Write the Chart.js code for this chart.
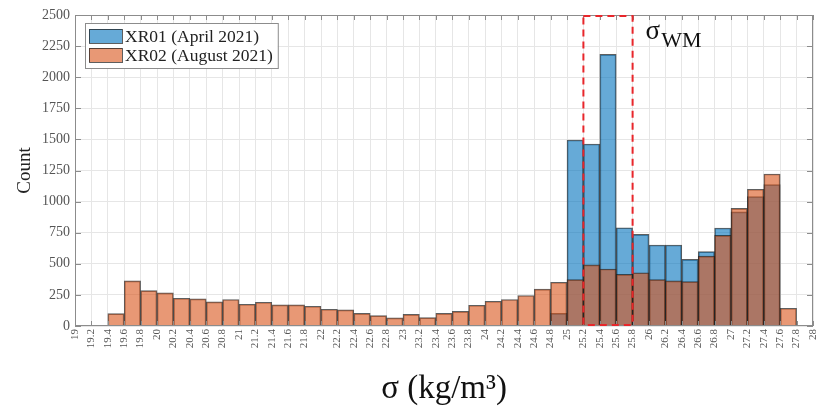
<!DOCTYPE html>
<html>
<head>
<meta charset="utf-8">
<script src="https://cdn.jsdelivr.net/npm/chart.js@4.4.0/dist/chart.umd.min.js"></script>
<style>
    html, body { margin: 0; padding: 0; background: #fff; }
    #wrap { width: 817px; height: 409px; }
</style>
</head>
<body>
<div id="wrap"><canvas id="chart" width="817" height="409"></canvas></div>
<script>
// bin centres of the 0.2 kg/m3 histogram bins
const binCenters = [19.1, 19.3, 19.5, 19.7, 19.9, 20.1, 20.3, 20.5, 20.7, 20.9,
    21.1, 21.3, 21.5, 21.7, 21.9, 22.1, 22.3, 22.5, 22.7, 22.9,
    23.1, 23.3, 23.5, 23.7, 23.9, 24.1, 24.3, 24.5, 24.7, 24.9,
    25.1, 25.3, 25.5, 25.7, 25.9, 26.1, 26.3, 26.5, 26.7, 26.9,
    27.1, 27.3, 27.5, 27.7, 27.9];

const xr01Counts = [0, 0, 0, 0, 0, 0, 0, 0, 0, 0,
    0, 0, 0, 0, 0, 0, 0, 0, 0, 0,
    0, 0, 0, 0, 0, 0, 0, 0, 0, 102,
    1495, 1463, 2184, 790, 737, 651, 651, 536, 598, 788,
    917, 1040, 1136, 0, 0];

const xr02Counts = [0, 0, 100, 363, 285, 266, 223, 218, 194, 213,
    175, 191, 170, 170, 159, 135, 129, 102, 83, 65,
    94, 67, 102, 118, 167, 199, 213, 245, 296, 352,
    373, 492, 458, 415, 428, 373, 363, 357, 562, 729,
    946, 1099, 1222, 143, 0];

const seriesLabels = ['XR01 (April 2021)', 'XR02 (August 2021)'];

const xTickValues = [19, 19.2, 19.4, 19.6, 19.8, 20, 20.2, 20.4, 20.6, 20.8,
    21, 21.2, 21.4, 21.6, 21.8, 22, 22.2, 22.4, 22.6, 22.8,
    23, 23.2, 23.4, 23.6, 23.8, 24, 24.2, 24.4, 24.6, 24.8,
    25, 25.2, 25.4, 25.6, 25.8, 26, 26.2, 26.4, 26.6, 26.8,
    27, 27.2, 27.4, 27.6, 27.8, 28];
const yTickValues = [0, 250, 500, 750, 1000, 1250, 1500, 1750, 2000, 2250, 2500];

const wmRange = [25.2, 25.8];

const FONT = "'Liberation Serif', 'Times New Roman', serif";
const blueFill = 'rgba(0, 114, 189, 0.6)';
const orangeFill = 'rgba(217, 83, 25, 0.6)';
const edgeColor = 'rgba(25, 25, 25, 0.7)';
const axisGray = '#8c8c8c';
const labelGray = '#555';

const toPoints = counts => counts.map((c, i) => ({ x: binCenters[i], y: c }));

const framePlugin = {
    id: 'frame',
    beforeDraw(chart) {
        const ctx = chart.ctx;
        ctx.save();
        ctx.fillStyle = '#fff';
        ctx.fillRect(0, 0, chart.width, chart.height);
        ctx.restore();
    },
    afterDatasetsDraw(chart) {
        const { ctx, chartArea: a, scales } = chart;
        const x = scales.x, y = scales.y;
        ctx.save();

        // axes box with inward ticks
        ctx.strokeStyle = axisGray;
        ctx.lineWidth = 1;
        ctx.strokeRect(Math.round(a.left) + 0.5, Math.round(a.top) + 0.5,
            Math.round(a.width) - 1, Math.round(a.height) - 1);
        ctx.beginPath();
        xTickValues.forEach(v => {
            const px = Math.round(x.getPixelForValue(v)) + 0.5;
            ctx.moveTo(px, a.bottom); ctx.lineTo(px, a.bottom - 5);
            ctx.moveTo(px, a.top); ctx.lineTo(px, a.top + 5);
        });
        yTickValues.forEach(v => {
            const py = Math.round(y.getPixelForValue(v)) + 0.5;
            ctx.moveTo(a.left, py); ctx.lineTo(a.left + 6, py);
            ctx.moveTo(a.right, py); ctx.lineTo(a.right - 6, py);
        });
        ctx.stroke();

        // red dashed window
        const x0 = x.getPixelForValue(wmRange[0]);
        const x1 = x.getPixelForValue(wmRange[1]);
        ctx.strokeStyle = '#e8262b';
        ctx.lineWidth = 2;
        ctx.setLineDash([7, 5]);
        ctx.strokeRect(x0, a.top + 1, x1 - x0, a.height - 2);
        ctx.setLineDash([]);

        // sigma_WM label
        ctx.fillStyle = '#111';
        ctx.textBaseline = 'alphabetic';
        ctx.font = `27px ${FONT}`;
        ctx.fillText('σ', x1 + 13, a.top + 24);
        const sw = ctx.measureText('σ').width;
        ctx.font = `22px ${FONT}`;
        ctx.fillText('WM', x1 + 13 + sw + 1, a.top + 32);

        // legend
        const lx = a.left + 10, ly = a.top + 8;
        ctx.font = `17.5px ${FONT}`;
        const tw = Math.max(...seriesLabels.map(t => ctx.measureText(t).width));
        const boxW = 40 + tw + 5, boxH = 45;
        ctx.fillStyle = '#fff';
        ctx.fillRect(lx, ly, boxW, boxH);
        ctx.strokeStyle = axisGray;
        ctx.lineWidth = 1;
        ctx.strokeRect(lx + 0.5, ly + 0.5, boxW, boxH);
        const fills = [blueFill, orangeFill];
        ctx.textBaseline = 'middle';
        seriesLabels.forEach((t, i) => {
            const sy = ly + 6 + i * 19;
            ctx.fillStyle = fills[i];
            ctx.fillRect(lx + 4, sy, 33, 14);
            ctx.strokeStyle = edgeColor;
            ctx.strokeRect(lx + 4.5, sy + 0.5, 33, 14);
            ctx.fillStyle = '#222';
            ctx.fillText(t, lx + 40, sy + 8);
        });
        ctx.restore();
    }
};

new Chart(document.getElementById('chart'), {
    type: 'bar',
    data: {
        datasets: [{
            label: seriesLabels[0],
            data: toPoints(xr01Counts),
            backgroundColor: blueFill,
            borderColor: edgeColor,
            borderWidth: 1,
            order: 2
        }, {
            label: seriesLabels[1],
            data: toPoints(xr02Counts),
            backgroundColor: orangeFill,
            borderColor: edgeColor,
            borderWidth: 1,
            order: 1
        }]
    },
    options: {
        responsive: false,
        animation: false,
        layout: { padding: { left: 0, right: 4, top: 15, bottom: 0 } },
        datasets: {
            bar: { grouped: false, barPercentage: 1, categoryPercentage: 1 }
        },
        plugins: {
            legend: { display: false },
            tooltip: { enabled: false }
        },
        scales: {
            x: {
                type: 'linear',
                min: 19,
                max: 28,
                offset: false,
                afterBuildTicks: scale => {
                    scale.ticks = xTickValues.map(v => ({ value: v }));
                },
                afterFit: scale => {
                    scale.height = 83;
                    scale.paddingLeft = 0;
                    scale.paddingRight = 0;
                },
                grid: { color: '#e6e6e6', drawTicks: false, offset: false },
                border: { display: false },
                ticks: {
                    autoSkip: false,
                    minRotation: 90,
                    maxRotation: 90,
                    padding: 3,
                    color: labelGray,
                    font: { family: FONT, size: 11 },
                    callback: v => String(+v.toFixed(1))
                },
                title: {
                    display: true,
                    text: 'σ (kg/m³)',
                    color: '#111',
                    font: { family: FONT, size: 33 },
                    padding: { top: 0, bottom: 0 }
                }
            },
            y: {
                min: 0,
                max: 2500,
                afterBuildTicks: scale => {
                    scale.ticks = yTickValues.map(v => ({ value: v }));
                },
                afterFit: scale => { scale.width = 75; },
                grid: { color: '#e6e6e6', drawTicks: false },
                border: { display: false },
                ticks: {
                    padding: 5,
                    color: labelGray,
                    font: { family: FONT, size: 14 },
                    callback: v => String(v)
                },
                title: {
                    display: true,
                    text: 'Count',
                    color: '#222',
                    font: { family: FONT, size: 19 },
                    padding: { top: 14, bottom: 0 }
                }
            }
        }
    },
    plugins: [framePlugin]
});
</script>
</body>
</html>
